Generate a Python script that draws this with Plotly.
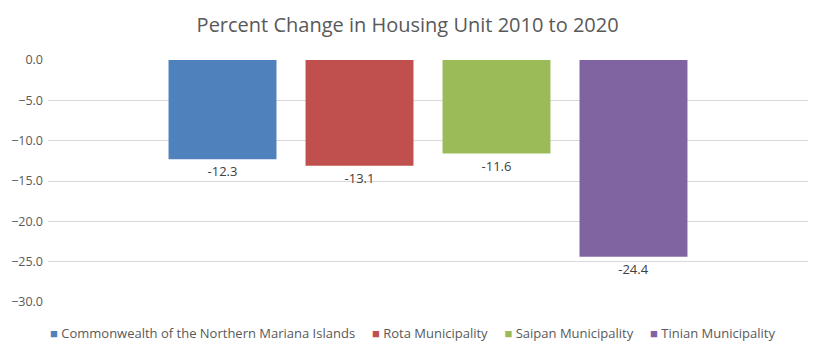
import plotly.graph_objects as go

series = ["Commonwealth of the Northern Mariana Islands", "Rota Municipality",
          "Saipan Municipality", "Tinian Municipality"]
values = [-12.3, -13.1, -11.6, -24.4]
colors = ["#4f81bd", "#c0504d", "#9bbb59", "#8064a2"]
category = ["Percent Change"]
tick_vals = [0, -5, -10, -15, -20, -25, -30]

FONT = "Open Sans"

fig = go.Figure()
for name, v, c in zip(series, values, colors):
    fig.add_trace(go.Bar(
        x=category, y=[v], name=name, marker_color=c, marker_line_width=0,
        text=[f"{v:.1f}"], textposition="outside", cliponaxis=False,
        textfont=dict(size=13, color="#404040", family=FONT),
        showlegend=False,
    ))

# legend drawn as a single text line with coloured square glyphs
legend_parts = [f'<span style="color:{c}">■</span> {n}' for n, c in zip(series, colors)]
legend_text = "&nbsp;&nbsp;&nbsp;&nbsp;&nbsp;".join(legend_parts)
fig.add_annotation(text=legend_text, xref="paper", yref="paper",
                   x=0.479, y=-0.128, xanchor="center", yanchor="middle",
                   showarrow=False, font=dict(family=FONT, size=13, color="#595959"))

fig.update_layout(
    width=809, height=347,
    margin=dict(l=40, r=9, t=52, b=53, autoexpand=False),
    paper_bgcolor="white", plot_bgcolor="white",
    barmode="group", bargap=0.279, bargroupgap=0.212,
    title=dict(text="Percent Change in Housing Unit 2010 to 2020",
               x=0.494, xanchor="center", y=0.951, yanchor="middle",
               font=dict(family=FONT, size=20, color="#595959")),
    font=dict(family=FONT, color="#595959"),
    showlegend=False,
)
fig.update_xaxes(showticklabels=False, showgrid=False, showline=False,
                 zeroline=False, automargin=False)
fig.update_yaxes(range=[-30, 0], tickvals=tick_vals, tickformat=".1f",
                 showgrid=True, gridcolor="#d9d9d9", gridwidth=1,
                 zeroline=False, showline=False, automargin=False,
                 tickfont=dict(size=12.5, color="#595959"), ticks="", ticklabelstandoff=4)

fig.write_html("out.html")
